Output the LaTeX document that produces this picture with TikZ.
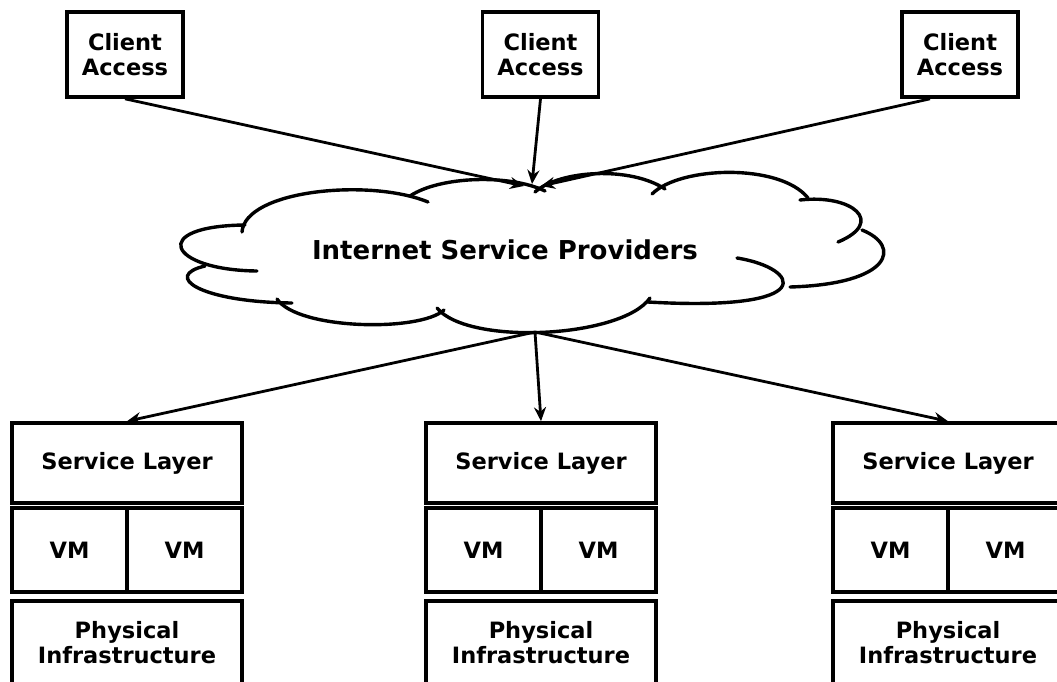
\documentclass[tikz,border=0pt]{standalone}
\usepackage{fontspec}
\setmainfont{DejaVu Sans}
\usetikzlibrary{arrows.meta}
\begin{document}
\begin{tikzpicture}[x=1pt,y=-1pt,
  box/.style={draw, line width=3.6pt, inner sep=0pt, align=center,
    font=\bfseries\fontsize{22.5}{25}\selectfont},
  conn/.style={line width=2.8pt, -{Stealth[length=14pt,width=12pt]}},
  cloudline/.style={line width=3.4pt, line cap=round}]
\useasboundingbox (0,0) rectangle (1057,681);
\clip (0,0) rectangle (1057,681);
\fill[white] (0,0) rectangle (1057,681);

% client boxes
\node[box, minimum width=116pt, minimum height=85pt] (c1) at (125,54.5) {Client\\Access};
\node[box, minimum width=116pt, minimum height=85pt] (c2) at (540.5,54.5) {Client\\Access};
\node[box, minimum width=116pt, minimum height=85pt] (c3) at (960,54.5) {Client\\Access};

% cloud
\begin{scope}[cloudline]
\draw (242,232) .. controls (245,190) and (370,178) .. (428,202);
\draw (410,196) .. controls (440,176) and (510,174) .. (545,191);
\draw (535,192) .. controls (560,170) and (630,166) .. (665,189);
\draw (652,194) .. controls (680,166) and (780,163) .. (808,198);
\draw (800,200) .. controls (852,194) and (886,222) .. (838,242);
\draw (862,230) .. controls (902,246) and (892,284) .. (790,287);
\draw (737,258) .. controls (800,268) and (822,312) .. (648,302);
\draw (650,298) .. controls (622,338) and (468,346) .. (437,308);
\draw (444,310) .. controls (420,332) and (298,330) .. (277,299);
\draw (292,303) .. controls (200,302) and (162,276) .. (205,266);
\draw (257,271) .. controls (168,270) and (148,226) .. (245,225);
\end{scope}
\node[inner sep=0pt, font=\bfseries\fontsize{26}{30}\selectfont] (isp) at (505,250) {Internet Service Providers};

\coordinate (t1) at (524,186);
\coordinate (t2) at (532,184);
\coordinate (t3) at (541,186);
\coordinate (b0) at (535,332);

% service stacks
\node[box, minimum width=230pt, minimum height=80pt] (s1) at (127,463) {Service Layer};
\node[box, minimum width=230pt, minimum height=80pt] (s2) at (541,463) {Service Layer};
\node[box, minimum width=230pt, minimum height=80pt] (s3) at (948,463) {Service Layer};

\node[box, minimum width=115pt, minimum height=84pt] (v1a) at (69.5,550) {VM};
\node[box, minimum width=115pt, minimum height=84pt] (v1b) at (184.5,550) {VM};
\node[box, minimum width=115pt, minimum height=84pt] (v2a) at (483.5,550) {VM};
\node[box, minimum width=115pt, minimum height=84pt] (v2b) at (598.5,550) {VM};
\node[box, minimum width=115pt, minimum height=84pt] (v3a) at (890.5,550) {VM};
\node[box, minimum width=115pt, minimum height=84pt] (v3b) at (1005.5,550) {VM};

\node[box, minimum width=230pt, minimum height=84pt] (p1) at (127,643) {Physical\\Infrastructure};
\node[box, minimum width=230pt, minimum height=84pt] (p2) at (541,643) {Physical\\Infrastructure};
\node[box, minimum width=230pt, minimum height=84pt] (p3) at (948,643) {Physical\\Infrastructure};

% connectors
\draw[conn] (c1.south) -- (t1);
\draw[conn] (c2.south) -- (t2);
\draw[conn] ([xshift=-30pt]c3.south) -- (t3);
\draw[conn] (b0) -- (s1.north);
\draw[conn] (b0) -- (s2.north);
\draw[conn] (b0) -- (s3.north);
\end{tikzpicture}
\end{document}
